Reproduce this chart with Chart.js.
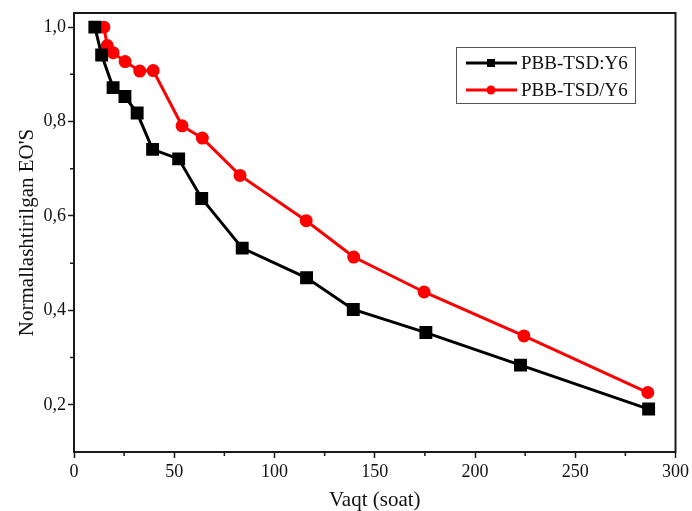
<!DOCTYPE html>
<html lang="en">
<head>
    <meta charset="UTF-8">
    <title>Normallashtirilgan EO'S</title>
    <script src="https://cdn.jsdelivr.net/npm/chart.js"></script>
    <style>
        body {
            margin: 0;
            padding: 0;
            background-color: #ffffff;
        }
        .chart-box {
            width: 692px;
            height: 511px;
        }
    </style>
</head>
<body>
    <div class="chart-box">
        <canvas id="chart"></canvas>
    </div>

    <script>
        const seriesNames = ['PBB-TSD:Y6', 'PBB-TSD/Y6'];

        // PBB-TSD:Y6 (black squares)
        const blendTime = [10.4, 13.8, 19.5, 25.4, 31.5, 39.2, 52.2, 63.7, 83.9, 116, 139.3, 175.5, 222.7, 286.6];
        const blendPce = [1.0, 0.941, 0.872, 0.853, 0.818, 0.741, 0.721, 0.637, 0.532, 0.469, 0.402, 0.353, 0.284, 0.191];

        // PBB-TSD/Y6 (red circles)
        const layerTime = [14.9, 16.6, 19.5, 25.5, 32.8, 39.5, 53.9, 64, 82.8, 115.8, 139.5, 174.6, 224.4, 286.2];
        const layerPce = [1.0, 0.961, 0.946, 0.927, 0.907, 0.908, 0.791, 0.765, 0.686, 0.590, 0.513, 0.439, 0.346, 0.226];

        const xTicks = [0, 50, 100, 150, 200, 250, 300];
        const yTicks = [0.2, 0.4, 0.6, 0.8, 1.0];

        const serif = "'Liberation Serif', 'Times New Roman', serif";

        function toPoints(xs, ys) {
            return xs.map((x, i) => ({ x: x, y: ys[i] }));
        }

        // frame around the plot, minor ticks and the legend box
        const framePlugin = {
            id: 'frame',
            afterDraw(chart) {
                const ctx = chart.ctx;
                const a = chart.chartArea;
                const xs = chart.scales.x;
                const ys = chart.scales.y;
                ctx.save();
                ctx.strokeStyle = '#1a1a1a';
                ctx.lineWidth = 2;
                ctx.strokeRect(a.left, a.top, a.right - a.left, a.bottom - a.top);

                // minor ticks halfway between the labelled ones
                ctx.lineWidth = 1.5;
                ctx.beginPath();
                for (let i = 0; i < xTicks.length - 1; i++) {
                    const px = xs.getPixelForValue((xTicks[i] + xTicks[i + 1]) / 2);
                    ctx.moveTo(px, a.bottom);
                    ctx.lineTo(px, a.bottom + 4);
                }
                for (let i = 0; i < yTicks.length - 1; i++) {
                    const py = ys.getPixelForValue((yTicks[i] + yTicks[i + 1]) / 2);
                    ctx.moveTo(a.left, py);
                    ctx.lineTo(a.left - 4, py);
                }
                ctx.stroke();

                // legend
                const bx = 456, by = 47, bw = 179, bh = 56;
                ctx.lineWidth = 1;
                ctx.strokeStyle = '#555';
                ctx.strokeRect(bx + 0.5, by + 0.5, bw, bh);
                chart.data.datasets.forEach((ds, i) => {
                    const ly = by + 16 + i * 27;
                    ctx.strokeStyle = ds.borderColor;
                    ctx.lineWidth = 3;
                    ctx.beginPath();
                    ctx.moveTo(466, ly);
                    ctx.lineTo(517, ly);
                    ctx.stroke();
                    ctx.fillStyle = ds.backgroundColor;
                    if (ds.pointStyle === 'rect') {
                        ctx.fillRect(487, ly - 4, 8, 8);
                    } else {
                        ctx.beginPath();
                        ctx.arc(491, ly, 4.5, 0, Math.PI * 2);
                        ctx.fill();
                    }
                    ctx.fillStyle = '#111';
                    ctx.font = '19px ' + serif;
                    ctx.textBaseline = 'middle';
                    ctx.textAlign = 'left';
                    ctx.fillText(ds.label, 521, ly + 1);
                });
                ctx.restore();
            }
        };

        const ctx = document.getElementById('chart').getContext('2d');
        new Chart(ctx, {
            type: 'line',
            data: {
                datasets: [
                    {
                        label: seriesNames[0],
                        data: toPoints(blendTime, blendPce),
                        borderColor: '#000000',
                        backgroundColor: '#000000',
                        borderWidth: 3,
                        pointStyle: 'rect',
                        pointRadius: 7,
                        pointHoverRadius: 7,
                        tension: 0
                    },
                    {
                        label: seriesNames[1],
                        data: toPoints(layerTime, layerPce),
                        borderColor: '#ff0000',
                        backgroundColor: '#ff0000',
                        borderWidth: 3,
                        pointStyle: 'circle',
                        pointRadius: 5,
                        pointHoverRadius: 5,
                        tension: 0
                    }
                ]
            },
            options: {
                responsive: true,
                maintainAspectRatio: false,
                animation: false,
                layout: {
                    padding: { left: 0, right: 16, top: 13, bottom: 0 }
                },
                plugins: {
                    legend: { display: false },
                    tooltip: { enabled: false }
                },
                scales: {
                    x: {
                        type: 'linear',
                        min: 0,
                        max: 300,
                        afterBuildTicks: (scale) => {
                            scale.ticks = xTicks.map(v => ({ value: v }));
                        },
                        afterFit: (scale) => { scale.height = 59; },
                        grid: {
                            drawOnChartArea: false,
                            tickLength: 6,
                            tickWidth: 1.5,
                            color: '#1a1a1a'
                        },
                        border: { display: false },
                        ticks: {
                            color: '#111',
                            padding: 3,
                            maxRotation: 0,
                            font: { family: serif, size: 18 }
                        },
                        title: {
                            display: true,
                            text: 'Vaqt (soat)',
                            color: '#111',
                            padding: { top: 0, bottom: 0 },
                            font: { family: serif, size: 21, lineHeight: 1.0 }
                        }
                    },
                    y: {
                        type: 'linear',
                        min: 0.1,
                        max: 1.03,
                        afterBuildTicks: (scale) => {
                            scale.ticks = yTicks.map(v => ({ value: v }));
                        },
                        afterFit: (scale) => { scale.width = 74; },
                        grid: {
                            drawOnChartArea: false,
                            tickLength: 6,
                            tickWidth: 1.5,
                            color: '#1a1a1a'
                        },
                        border: { display: false },
                        ticks: {
                            color: '#111',
                            padding: 2,
                            font: { family: serif, size: 18 },
                            callback: (v) => v.toFixed(1).replace('.', ',')
                        },
                        title: {
                            display: true,
                            text: "Normallashtirilgan EO'S",
                            color: '#111',
                            padding: { top: 15, bottom: 0 },
                            font: { family: serif, size: 21 }
                        }
                    }
                }
            },
            plugins: [framePlugin]
        });
    </script>
</body>
</html>
